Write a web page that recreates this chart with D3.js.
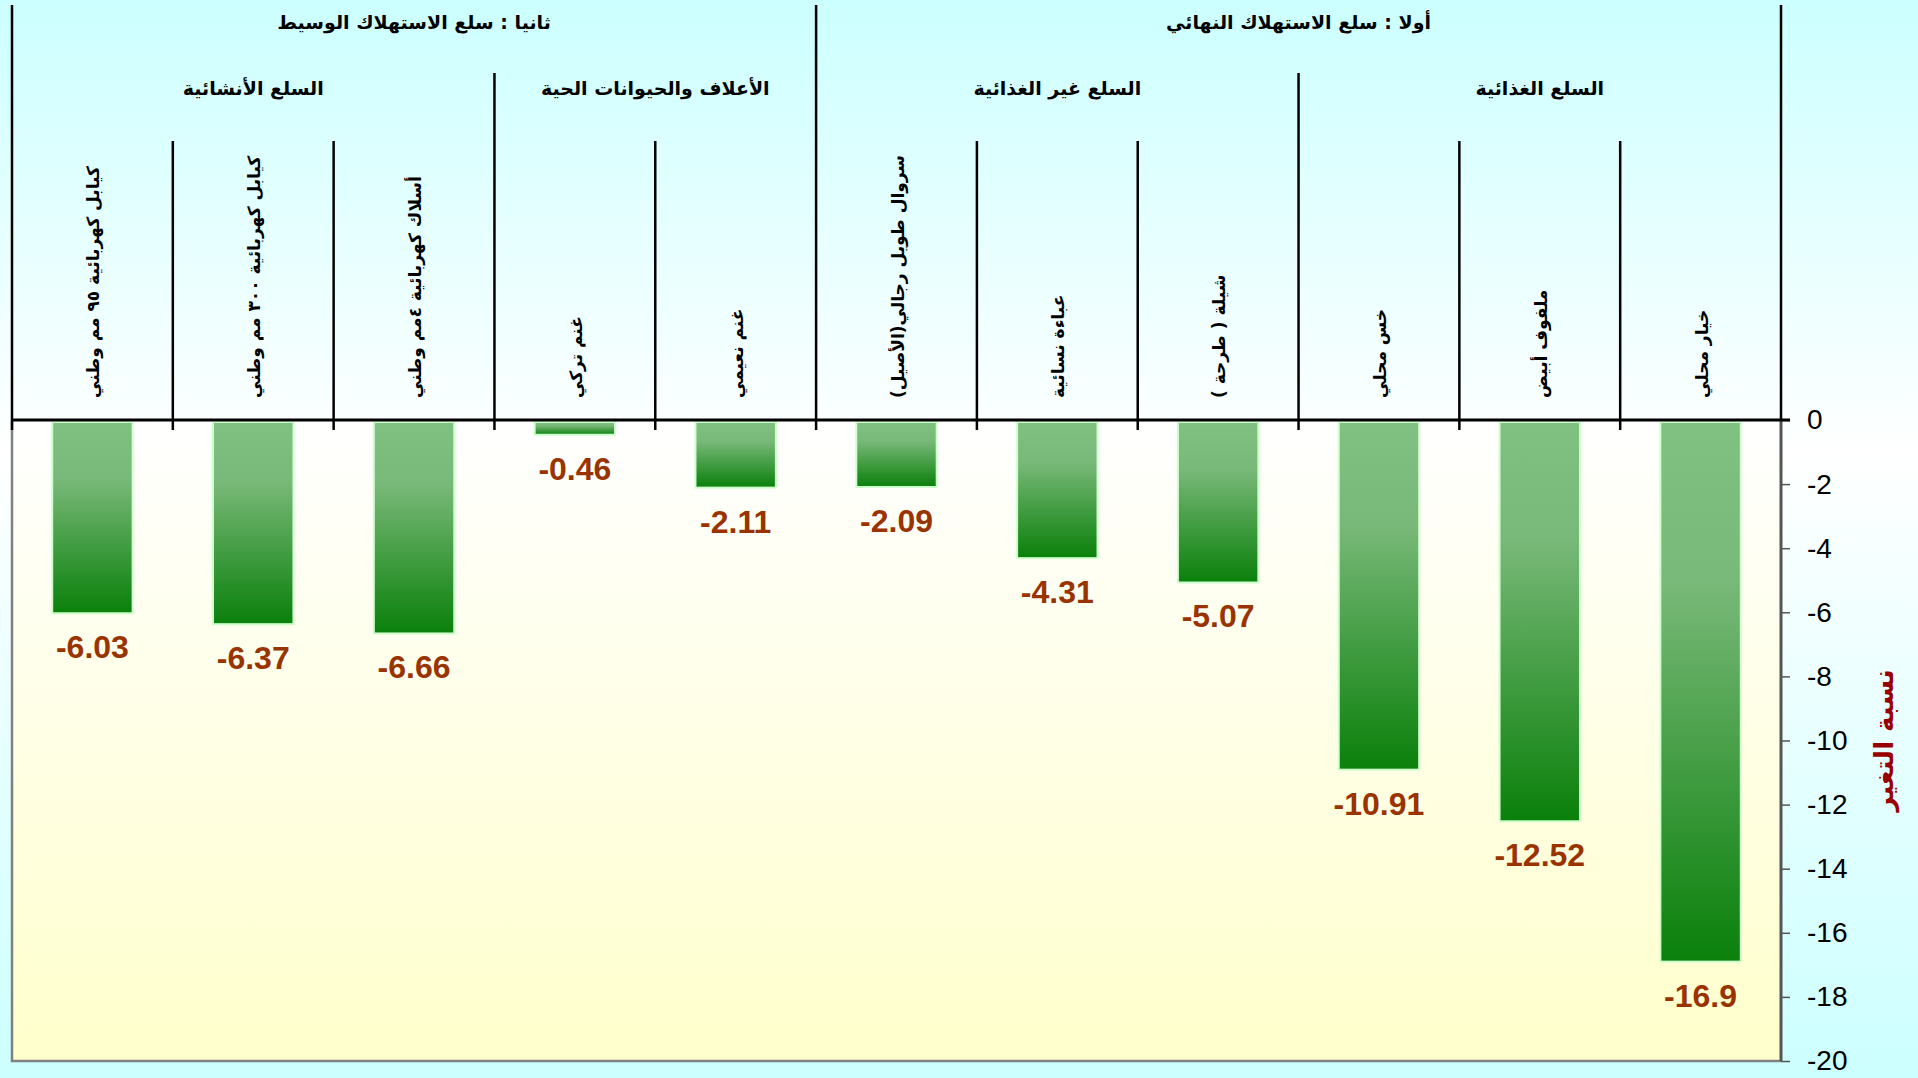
<!DOCTYPE html>
<html>
<head>
<meta charset="utf-8">
<script src="https://cdn.jsdelivr.net/npm/d3@7"></script>
<style>
  body { margin: 0; background: #ccffff; }
  svg { display: block; }
  text { font-family: "Liberation Sans", Arial, "DejaVu Sans", sans-serif; }
  .ar { font-family: "DejaVu Sans", sans-serif; font-weight: bold; }
</style>
</head>
<body>
<div id="content"></div>
<script>
// categories run right to left, like the original sheet
const categories = ['خيار محلي', 'ملفوف أبيض', 'خس محلي', 'شيلة ( طرحة )', 'عباءة نسائية',
                    'سروال طويل رجالي(الأصيل)', 'غنم نعيمي', 'غنم تركي',
                    'أسلاك كهربائية ٤مم وطني', 'كيابل كهربائية ٣٠٠ مم وطني', 'كيابل كهربائية ٩٥ مم وطني'];
const values = [-16.9, -12.52, -10.91, -5.07, -4.31, -2.09, -2.11, -0.46, -6.66, -6.37, -6.03];

const subGroups = ['السلع الغذائية', 'السلع غير الغذائية', 'الأعلاف والحيوانات الحية', 'السلع الأنشائية'];
const subGroupSizes = [3, 3, 2, 3];
const mainGroups = ['أولا : سلع الاستهلاك النهائي', 'ثانيا : سلع الاستهلاك الوسيط'];
const mainGroupSizes = [6, 5];

const yTicks = [0, -2, -4, -6, -8, -10, -12, -14, -16, -18, -20];
const yTitle = 'نسبة التغير';

var width = 1918;
var height = 1078;
var left = 12, right = 1781, top0 = 420, bottom = 1061;

const svg = d3.select('#content')
              .append('svg')
              .attr('width', width)
              .attr('height', height);

const defs = svg.append('defs');

const bg = defs.append('linearGradient').attr('id', 'bg').attr('x1', 0).attr('y1', 0).attr('x2', 0).attr('y2', 1);
bg.append('stop').attr('offset', 0).attr('stop-color', '#ccffff');
bg.append('stop').attr('offset', 0.42).attr('stop-color', '#ffffff');
bg.append('stop').attr('offset', 1).attr('stop-color', '#ccffff');

const plotBg = defs.append('linearGradient').attr('id', 'plotbg').attr('x1', 0).attr('y1', 0).attr('x2', 0).attr('y2', 1);
plotBg.append('stop').attr('offset', 0).attr('stop-color', '#ffffff');
plotBg.append('stop').attr('offset', 1).attr('stop-color', '#ffffcc');

const barGrad = defs.append('linearGradient').attr('id', 'bar').attr('x1', 0).attr('y1', 0).attr('x2', 0).attr('y2', 1);
barGrad.append('stop').attr('offset', 0).attr('stop-color', '#80c080');
barGrad.append('stop').attr('offset', 0.3).attr('stop-color', '#78b878');
barGrad.append('stop').attr('offset', 1).attr('stop-color', '#0a800a');

svg.append('rect').attr('width', width).attr('height', height).attr('fill', 'url(#bg)');

const x = d3.scaleBand()
            .domain(categories)
            .range([right, left])
            .paddingInner(0.5)
            .paddingOuter(0.25);

const y = d3.scaleLinear()
            .domain([0, -20])
            .range([top0, bottom]);

// plot area
svg.append('rect')
   .attr('x', left).attr('y', y(0))
   .attr('width', right - left).attr('height', y(-20) - y(0))
   .attr('fill', 'url(#plotbg)');

svg.append('path')
   .attr('d', `M${left},${y(0)}V${y(-20)}H${right}`)
   .attr('fill', 'none')
   .attr('stroke', '#808080')
   .attr('stroke-width', 2.5);

// bars
svg.append('g')
   .selectAll('rect')
   .data(values)
   .enter()
   .append('rect')
   .attr('x', (d, i) => x(categories[i]))
   .attr('y', y(0) + 2)
   .attr('width', x.bandwidth())
   .attr('height', d => y(d) - y(0) - 2)
   .attr('fill', 'url(#bar)')
   .attr('stroke', '#ccffcc')
   .attr('stroke-width', 2);

svg.append('g')
   .selectAll('text')
   .data(values)
   .enter()
   .append('text')
   .attr('x', (d, i) => x(categories[i]) + x.bandwidth() / 2)
   .attr('y', d => y(d) + 45)
   .attr('text-anchor', 'middle')
   .attr('font-size', 32)
   .attr('font-weight', 'bold')
   .attr('fill', '#993300')
   .text(d => d);

// right value axis
const axis = d3.axisRight(y)
               .tickValues(yTicks)
               .tickSize(9)
               .tickPadding(17)
               .tickFormat(d => d);

const ax = svg.append('g')
              .attr('transform', `translate(${right},0)`)
              .call(axis);
ax.select('.domain').attr('stroke', '#555').attr('stroke-width', 3).attr('d', `M0,${y(0)}V${y(-20)}`);
ax.selectAll('.tick line').attr('stroke', '#555').attr('stroke-width', 1.5);
ax.selectAll('.tick text').attr('font-size', 28).attr('fill', '#000')
  .attr('font-family', '"Liberation Sans", Arial, sans-serif');

svg.append('text')
   .attr('class', 'ar')
   .attr('transform', `translate(1893,${(y(-8) + y(-12)) / 2}) rotate(-90)`)
   .attr('text-anchor', 'middle')
   .attr('direction', 'rtl')
   .attr('font-size', 26)
   .attr('fill', '#990000')
   .text(yTitle);

// category axis lines (multi level)
const step = x.step();
const edge = i => right - i * step;   // boundary after i categories, counting from the right

const lines = svg.append('g').attr('stroke', '#000').attr('stroke-width', 2.5);

let mainEdges = [0], acc = 0;
mainGroupSizes.forEach(n => { acc += n; mainEdges.push(acc); });
let subEdges = [], acc2 = 0;
subGroupSizes.forEach(n => { acc2 += n; subEdges.push(acc2); });

d3.range(categories.length + 1).forEach(i => {
    let y1 = 141;
    if (subEdges.includes(i)) y1 = 73;
    if (mainEdges.includes(i)) y1 = 5;
    lines.append('line')
         .attr('x1', edge(i)).attr('x2', edge(i))
         .attr('y1', y1).attr('y2', i === 0 ? y(0) : y(0) + 10);
});

svg.append('line')
   .attr('x1', left).attr('x2', right + 9)
   .attr('y1', y(0)).attr('y2', y(0))
   .attr('stroke', '#000').attr('stroke-width', 3);

// category labels, rotated, read top to bottom
svg.append('g')
   .selectAll('text')
   .data(categories)
   .enter()
   .append('text')
   .attr('class', 'ar')
   .attr('direction', 'rtl')
   .attr('text-anchor', 'middle')
   .attr('font-size', 17)
   .attr('fill', '#000')
   .text(d => d)
   .attr('transform', function(d) {
       const len = this.getComputedTextLength();
       const cx = x(d) + x.bandwidth() / 2 + 7;
       return `translate(${cx},${398 - len / 2}) rotate(-90)`;
   });

// group labels
let start = 0;
subGroups.forEach((g, i) => {
    const cx = (edge(start) + edge(start + subGroupSizes[i])) / 2;
    svg.append('text').attr('class', 'ar')
       .attr('direction', 'rtl')
       .attr('x', cx).attr('y', 95)
       .attr('text-anchor', 'middle')
       .attr('font-size', 19)
       .text(g);
    start += subGroupSizes[i];
});

start = 0;
mainGroups.forEach((g, i) => {
    const cx = (edge(start) + edge(start + mainGroupSizes[i])) / 2;
    svg.append('text').attr('class', 'ar')
       .attr('direction', 'rtl')
       .attr('x', cx).attr('y', 29)
       .attr('text-anchor', 'middle')
       .attr('font-size', 19)
       .text(g);
    start += mainGroupSizes[i];
});
</script>
</body>
</html>
